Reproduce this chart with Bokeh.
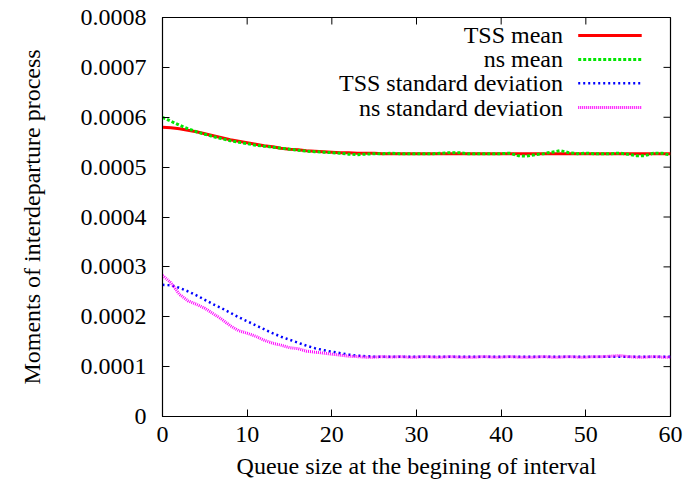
from bokeh.plotting import figure
from bokeh.models import (ColumnDataSource, FixedTicker, Label, Arrow, Range1d)
from bokeh.embed import file_html
from bokeh.resources import INLINE

# ---------------- data ----------------
queue_size = list(range(0, 61))

tss_mean = [0.000580, 0.000579, 0.000577, 0.000574, 0.000571, 0.000567, 0.000563, 0.000559,
            0.000555, 0.000552, 0.000549, 0.000546, 0.000543, 0.000541, 0.000538, 0.000536,
            0.000535, 0.000533, 0.000532, 0.000531, 0.000530, 0.000529, 0.000529, 0.000528,
            0.000528, 0.000528] + [0.000527] * 35

ns_mean = [0.000600, 0.000592, 0.000584, 0.000577, 0.000571, 0.000566, 0.000561, 0.000557,
           0.000553, 0.000550, 0.000547, 0.000544, 0.000542, 0.000540, 0.000538, 0.000536,
           0.000534, 0.000532, 0.000531, 0.000530, 0.000529, 0.000528, 0.000526, 0.000525,
           0.000526, 0.000527, 0.000527, 0.000528, 0.000527, 0.000527, 0.000527, 0.000527,
           0.000527, 0.000528, 0.000529, 0.000529, 0.000527, 0.000527, 0.000527, 0.000527,
           0.000527, 0.000528, 0.000523, 0.000522, 0.000525, 0.000527, 0.000530, 0.000533,
           0.000529, 0.000527, 0.000528, 0.000527, 0.000527, 0.000527, 0.000528, 0.000526,
           0.000523, 0.000523, 0.000528, 0.000528, 0.000524]

tss_std = [0.000264, 0.000263, 0.000258, 0.000251, 0.000243, 0.000234, 0.000225, 0.000217,
           0.000208, 0.000199, 0.000191, 0.000183, 0.000175, 0.000167, 0.000160, 0.000154,
           0.000148, 0.000142, 0.000137, 0.000133, 0.000130, 0.000127, 0.000124, 0.000122,
           0.000121, 0.000120] + [0.000120] * 35

ns_std = [0.000283, 0.000268, 0.000245, 0.000232, 0.000225, 0.000217, 0.000206, 0.000195,
          0.000182, 0.000172, 0.000167, 0.000161, 0.000153, 0.000147, 0.000143, 0.000138,
          0.000136, 0.000131, 0.000129, 0.000127, 0.000125, 0.000123, 0.000121, 0.000120,
          0.000119, 0.000119, 0.000120, 0.000119, 0.000120, 0.000119, 0.000119, 0.000120,
          0.000119, 0.000119, 0.000120, 0.000119, 0.000119, 0.000119, 0.000120, 0.000119,
          0.000119, 0.000120, 0.000119, 0.000119, 0.000119, 0.000120, 0.000119, 0.000119,
          0.000120, 0.000119, 0.000119, 0.000120, 0.000120, 0.000121, 0.000122, 0.000120,
          0.000119, 0.000119, 0.000120, 0.000119, 0.000119]

series_names = ["TSS mean", "ns mean", "TSS standard deviation", "ns standard deviation"]

x_ticks = [0, 10, 20, 30, 40, 50, 60]
y_ticks = [0, 0.0001, 0.0002, 0.0003, 0.0004, 0.0005, 0.0006, 0.0007, 0.0008]
y_tick_labels = ["0", "0.0001", "0.0002", "0.0003", "0.0004", "0.0005", "0.0006", "0.0007", "0.0008"]

x_title = "Queue size at the begining of interval"
y_title = "Moments of interdeparture process"

# ---------------- styles ----------------
FONT = "'Liberation Serif', 'Times New Roman', Times, serif"
FS = "24px"
styles = [
    dict(line_color="#ff0000", line_width=3, line_dash="solid"),
    dict(line_color="#00e600", line_width=3, line_dash="3 2"),
    dict(line_color="#0000ff", line_width=2.5, line_dash="2 3"),
    dict(line_color="#ff00ff", line_width=3, line_dash="1 1"),
]
X0, X1, Y0, Y1 = 0, 60, 0, 0.0008
FRAME_W, FRAME_H = 508, 399
TICK_PX = 7

p = figure(width=688, height=489, output_backend="svg", toolbar_location=None,
           x_range=Range1d(X0, X1), y_range=Range1d(Y0, Y1),
           min_border_left=162, min_border_right=18, min_border_top=17, min_border_bottom=73)
p.background_fill_color = "white"
p.border_fill_color = "white"
p.outline_line_color = "black"
p.outline_line_width = 1.2
p.xgrid.visible = False
p.ygrid.visible = False

src = ColumnDataSource(dict(x=queue_size, tss_mean=tss_mean, ns_mean=ns_mean,
                            tss_std=tss_std, ns_std=ns_std))
for col, st in zip(["tss_mean", "ns_mean", "tss_std", "ns_std"], styles):
    p.line("x", col, source=src, **st)

# axes
def style_axis(ax):
    ax.major_tick_in = TICK_PX
    ax.major_tick_out = 0
    ax.minor_tick_line_color = None
    ax.axis_line_color = "black"
    ax.major_tick_line_color = "black"
    ax.major_label_text_font = FONT
    ax.major_label_text_font_size = FS
    ax.major_label_text_color = "black"
    ax.axis_label_text_font = FONT
    ax.axis_label_text_font_size = FS
    ax.axis_label_text_font_style = "normal"
    ax.axis_label_text_color = "black"

xa = p.xaxis[0]
xa.ticker = FixedTicker(ticks=x_ticks)
style_axis(xa)
xa.major_label_standoff = 10
xa.axis_label = x_title
xa.axis_label_standoff = 8

ya = p.yaxis[0]
ya.ticker = FixedTicker(ticks=y_ticks)
style_axis(ya)
ya.major_label_overrides = {t: l for t, l in zip(y_ticks, y_tick_labels)}
ya.major_label_standoff = 16
ya.axis_label = y_title
ya.axis_label_standoff = 33

# mirrored inward ticks on top and right edges (gnuplot style)
dy = TICK_PX * (Y1 - Y0) / FRAME_H
dx = TICK_PX * (X1 - X0) / FRAME_W
p.segment(x0=x_ticks, y0=[Y1] * len(x_ticks), x1=x_ticks, y1=[Y1 - dy] * len(x_ticks),
          line_color="black", line_width=1)
p.segment(x0=[X1] * len(y_ticks), y0=y_ticks, x1=[X1 - dx] * len(y_ticks), y1=y_ticks,
          line_color="black", line_width=1)

# manual gnuplot-style legend (text right-aligned, sample to the right)
legend_rows_y = [0.000764, 0.000716, 0.000668, 0.0006195]
legend_text_x = 47.3
legend_sample_x0, legend_sample_x1 = 49.1, 56.6
for name, st, ly in zip(series_names, styles, legend_rows_y):
    p.add_layout(Label(x=legend_text_x, y=ly, text=name, text_align="right",
                       text_baseline="middle", text_font=FONT, text_font_size=FS,
                       text_color="black"))
    p.add_layout(Arrow(end=None, x_start=legend_sample_x0, y_start=ly,
                       x_end=legend_sample_x1, y_end=ly, **st))

open("out.html", "w").write(file_html(p, INLINE))
